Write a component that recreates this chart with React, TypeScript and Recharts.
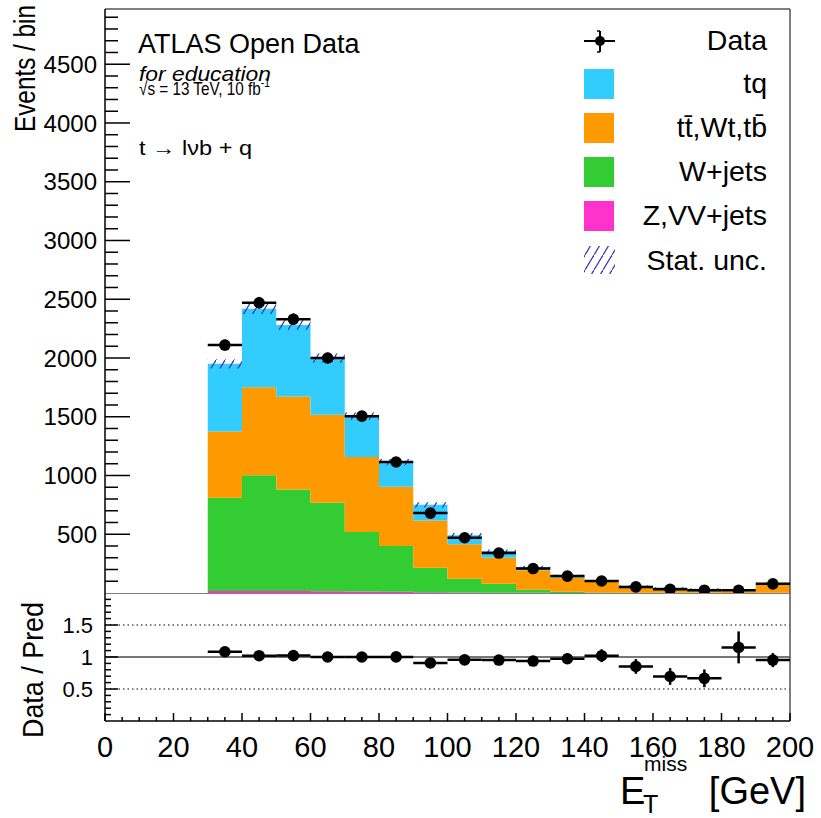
import { ComposedChart, Area, Scatter, XAxis, YAxis, ErrorBar, ReferenceLine } from 'recharts';

// bins of E_T^miss, 10 GeV wide, lower edges
const binLow = [30, 40, 50, 60, 70, 80, 90, 100, 110, 120, 130, 140, 150, 160, 170, 180, 190];
const binWidth = 10;

// stacked MC contributions per bin
const zvvJets = [18, 18, 17, 15, 12, 10, 7, 5, 3, 2, 1, 1, 1, 0.5, 0.5, 0.3, 0.5];
const wJets = [793, 985, 864, 753, 507, 391, 208, 116, 76, 25, 9, 4, 2, 1.5, 1.5, 0.7, 2.5];
const ttbarWt = [564, 749, 791, 749, 639, 503, 403, 293, 221, 166, 117, 88, 47, 38, 22, 14, 75];
const tq = [575, 668, 608, 483, 347, 209, 132, 78, 57, 29, 21, 7, 11, 6, 12, 5, 4];
const statUnc = [40, 45, 42, 38, 32, 28, 22, 18, 14, 10, 8, 6, 5, 4, 4, 3, 6];

// observed data
const dataCounts = [2110, 2470, 2330, 2000, 1505, 1115, 680, 470, 340, 208, 144, 102, 52, 32, 24, 23, 78];
const dataErr = [46, 50, 48, 45, 39, 33, 26, 22, 18, 14, 12, 10, 7, 6, 5, 5, 9];

// axes
const xLabels = [0, 20, 40, 60, 80, 100, 120, 140, 160, 180, 200];
const yLabels = [500, 1000, 1500, 2000, 2500, 3000, 3500, 4000, 4500];
const ratioLabels = [0.5, 1, 1.5];
const yMax = 4970;

const FONT = '"Liberation Sans", Arial, Helvetica, sans-serif';
const colors = { tq: '#33ccff', tt: '#ff9900', w: '#33cc33', z: '#ff33cc', hatch: '#3434b4' };

const nBins = binLow.length;
const totals = binLow.map((_, i) => zvvJets[i] + wJets[i] + ttbarWt[i] + tq[i]);

// step rows: one per bin edge, last edge repeats the last bin so the step closes
const stackRows = [...binLow, binLow[nBins - 1] + binWidth].map((x, k) => {
  const i = Math.min(k, nBins - 1);
  return {
    x,
    z: zvvJets[i],
    w: wJets[i],
    tt: ttbarWt[i],
    tq: tq[i],
    band: [totals[i] - statUnc[i], totals[i] + statUnc[i]],
  };
});

const dataPoints = binLow.map((lo, i) => ({
  x: lo + binWidth / 2,
  y: dataCounts[i],
  ex: binWidth / 2,
  ey: dataErr[i],
}));

const ratioPoints = binLow.map((lo, i) => ({
  x: lo + binWidth / 2,
  y: dataCounts[i] / totals[i],
  ex: binWidth / 2,
  ey: dataErr[i] / totals[i],
}));

const xTicks = Array.from({ length: 41 }, (_, k) => k * 5);
const yTicks = Array.from({ length: 49 }, (_, k) => (k + 1) * 100);
const ratioTicks = Array.from({ length: 19 }, (_, k) => (k + 1) / 10);

const dot = (p: any) => <circle cx={p.cx} cy={p.cy} r={5.8} fill="#000" />;

const mainXTick = (p: any) => {
  const major = xLabels.includes(p.payload.value);
  return <line x1={p.x} x2={p.x} y1={p.y} y2={p.y - (major ? 15 : 7)} stroke="#000" strokeWidth={1.5} />;
};

const ratioXTick = (p: any) => {
  const v = p.payload.value;
  const major = xLabels.includes(v);
  return (
    <g>
      <line x1={p.x} x2={p.x} y1={p.y} y2={p.y - (major ? 8 : 4)} stroke="#000" strokeWidth={1.5} />
      {major && (
        <text x={p.x} y={p.y + 36} textAnchor="middle" fontSize={29} fontFamily={FONT} fill="#000">
          {v}
        </text>
      )}
    </g>
  );
};

const mainYTick = (p: any) => {
  const v = p.payload.value;
  const major = yLabels.includes(v);
  return (
    <g>
      <line x1={p.x} x2={p.x + (major ? 25 : 13)} y1={p.y} y2={p.y} stroke="#000" strokeWidth={1.5} />
      {major && (
        <text x={p.x - 8} y={p.y} dy="0.36em" textAnchor="end" fontSize={24} fontFamily={FONT} fill="#000">
          {v}
        </text>
      )}
    </g>
  );
};

const ratioYTick = (p: any) => {
  const v = p.payload.value;
  const major = ratioLabels.some((r) => Math.abs(r - v) < 1e-6);
  return (
    <g>
      <line x1={p.x} x2={p.x + (major ? 13 : 6)} y1={p.y} y2={p.y} stroke="#000" strokeWidth={1.5} />
      {major && (
        <text x={p.x - 12} y={p.y} dy="0.36em" textAnchor="end" fontSize={22} fontFamily={FONT} fill="#000">
          {v === 1 ? '1' : v.toFixed(1)}
        </text>
      )}
    </g>
  );
};

const legendItems = [
  { label: 'tq', color: colors.tq },
  { label: 't\u0074\u0304,Wt,tb\u0304', color: colors.tt },
  { label: 'W+jets', color: colors.w },
  { label: 'Z,VV+jets', color: colors.z },
];

export default function App() {
  return (
    <div style={{ position: 'absolute', left: 0, top: 0, width: 821, height: 818, background: '#fff', overflow: 'hidden' }}>
      <div style={{ position: 'absolute', left: 0, top: 0 }}>
        <ComposedChart width={821} height={594} data={stackRows} margin={{ top: 9, right: 31, bottom: 1, left: 0 }}>
          <defs>
            <pattern id="hatch" patternUnits="userSpaceOnUse" width="9" height="15">
              <path d="M0,15 L9,0" stroke={colors.hatch} strokeWidth={1.2} />
            </pattern>
          </defs>
          <XAxis
            dataKey="x"
            type="number"
            domain={[0, 200]}
            ticks={xTicks}
            interval={0}
            tick={mainXTick}
            tickLine={false}
            tickSize={0}
            tickMargin={0}
            height={0}
            allowDataOverflow
            axisLine={{ stroke: '#000', strokeWidth: 1.5 }}
          />
          <YAxis
            type="number"
            domain={[0, yMax]}
            ticks={yTicks}
            interval={0}
            tick={mainYTick}
            tickLine={false}
            tickSize={0}
            tickMargin={0}
            width={105}
            allowDataOverflow
            axisLine={{ stroke: '#000', strokeWidth: 1.5 }}
          />
          <Area stackId="mc" dataKey="z" type="stepAfter" fill={colors.z} fillOpacity={1} stroke="none" dot={false} activeDot={false} isAnimationActive={false} />
          <Area stackId="mc" dataKey="w" type="stepAfter" fill={colors.w} fillOpacity={1} stroke="none" dot={false} activeDot={false} isAnimationActive={false} />
          <Area stackId="mc" dataKey="tt" type="stepAfter" fill={colors.tt} fillOpacity={1} stroke="none" dot={false} activeDot={false} isAnimationActive={false} />
          <Area stackId="mc" dataKey="tq" type="stepAfter" fill={colors.tq} fillOpacity={1} stroke="none" dot={false} activeDot={false} isAnimationActive={false} />
          <Area dataKey="band" type="stepAfter" fill="url(#hatch)" fillOpacity={1} stroke="none" dot={false} activeDot={false} isAnimationActive={false} />
          <ReferenceLine y={yMax} stroke="#555" strokeWidth={1.5} />
          <ReferenceLine x={200} stroke="#555" strokeWidth={1.5} />
          <Scatter data={dataPoints} dataKey="y" shape={dot} isAnimationActive={false}>
            <ErrorBar dataKey="ex" direction="x" width={0} stroke="#000" strokeWidth={2.5} />
            <ErrorBar dataKey="ey" direction="y" width={0} stroke="#000" strokeWidth={2.5} />
          </Scatter>
        </ComposedChart>
      </div>

      <div style={{ position: 'absolute', left: 0, top: 593 }}>
        <ComposedChart width={821} height={225} margin={{ top: 0, right: 31, bottom: 0, left: 0 }}>
          <XAxis
            dataKey="x"
            type="number"
            domain={[0, 200]}
            ticks={xTicks}
            interval={0}
            tick={ratioXTick}
            tickLine={false}
            tickSize={0}
            tickMargin={0}
            height={97}
            allowDataOverflow
            axisLine={{ stroke: '#000', strokeWidth: 1.5 }}
          />
          <YAxis
            type="number"
            domain={[0, 2]}
            ticks={ratioTicks}
            interval={0}
            tick={ratioYTick}
            tickLine={false}
            tickSize={0}
            tickMargin={0}
            width={105}
            allowDataOverflow
            axisLine={{ stroke: '#000', strokeWidth: 1.5 }}
          />
          <ReferenceLine y={1.5} stroke="#000" strokeDasharray="1.5 3" strokeWidth={1.2} />
          <ReferenceLine y={0.5} stroke="#000" strokeDasharray="1.5 3" strokeWidth={1.2} />
          <ReferenceLine y={1} stroke="#777" strokeWidth={2} />
          <ReferenceLine y={2} stroke="#555" strokeWidth={1.5} />
          <ReferenceLine x={200} stroke="#555" strokeWidth={1.5} />
          <Scatter data={ratioPoints} dataKey="y" shape={dot} isAnimationActive={false}>
            <ErrorBar dataKey="ex" direction="x" width={0} stroke="#000" strokeWidth={2.5} />
            <ErrorBar dataKey="ey" direction="y" width={0} stroke="#000" strokeWidth={2.5} />
          </Scatter>
        </ComposedChart>
      </div>

      <svg width={821} height={818} style={{ position: 'absolute', left: 0, top: 0, pointerEvents: 'none' }} fontFamily={FONT}>
        <defs>
          <pattern id="hatchLegend" patternUnits="userSpaceOnUse" width="9" height="15">
            <path d="M0,15 L9,0" stroke={colors.hatch} strokeWidth={1.2} />
          </pattern>
        </defs>
        {/* axis titles */}
        <text x={35} y={5} transform="rotate(-90 35 5)" textAnchor="end" fontSize={29} fill="#000" textLength={127} lengthAdjust="spacingAndGlyphs">
          Events / bin
        </text>
        <text x={43} y={670} transform="rotate(-90 43 670)" textAnchor="middle" fontSize={29} fill="#000" textLength={136} lengthAdjust="spacingAndGlyphs">
          Data / Pred
        </text>
        <text x={620} y={804} fontSize={38} fill="#000">E</text>
        <text x={644} y={771} fontSize={21} fill="#000">miss</text>
        <text x={643} y={813} fontSize={25} fill="#000">T</text>
        <text x={806} y={804} textAnchor="end" fontSize={38} fill="#000">[GeV]</text>

        {/* labels */}
        <text x={138} y={53} fontSize={27} fill="#000">ATLAS Open Data</text>
        <text x={139} y={81} fontSize={21} fontStyle="italic" fill="#000" textLength={132} lengthAdjust="spacingAndGlyphs">
          for education
        </text>
        <text x={139} y={95} fontSize={19} fill="#000" textLength={131} lengthAdjust="spacingAndGlyphs">
          {'\u221As = 13 TeV, 10 fb'}
          <tspan dy={-8} fontSize={13}>-1</tspan>
        </text>
        <text x={139} y={155} fontSize={20} fill="#000" textLength={113} lengthAdjust="spacingAndGlyphs">
          {'t \u2192 l\u03BDb + q'}
        </text>

        {/* legend */}
        <line x1={584} x2={615} y1={41} y2={41} stroke="#000" strokeWidth={2} />
        <line x1={600} x2={600} y1={31} y2={52} stroke="#000" strokeWidth={2} />
        <line x1={597} x2={600} y1={31} y2={31} stroke="#000" strokeWidth={1.5} />
        <line x1={597} x2={600} y1={52} y2={52} stroke="#000" strokeWidth={1.5} />
        <circle cx={600} cy={41} r={5} fill="#000" />
        <text x={767} y={50} textAnchor="end" fontSize={28.5} fill="#000">Data</text>
        {legendItems.map((it, k) => (
          <g key={it.label}>
            <rect x={584} y={69 + k * 44} width={30} height={30} fill={it.color} />
            <text x={767} y={93 + k * 44} textAnchor="end" fontSize={28.5} fill="#000">
              {it.label}
            </text>
          </g>
        ))}
        <rect x={584} y={246} width={31} height={28} fill="url(#hatchLegend)" />
        <text x={767} y={270} textAnchor="end" fontSize={28.5} fill="#000">Stat. unc.</text>
      </svg>
    </div>
  );
}
